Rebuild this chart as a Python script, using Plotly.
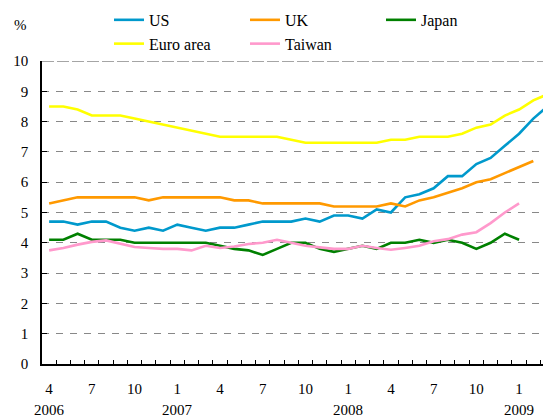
import plotly.graph_objects as go

# Monthly, April 2006 .. March 2009
months = ["Apr 2006","May 2006","Jun 2006","Jul 2006","Aug 2006","Sep 2006","Oct 2006","Nov 2006","Dec 2006",
          "Jan 2007","Feb 2007","Mar 2007","Apr 2007","May 2007","Jun 2007","Jul 2007","Aug 2007","Sep 2007",
          "Oct 2007","Nov 2007","Dec 2007","Jan 2008","Feb 2008","Mar 2008","Apr 2008","May 2008","Jun 2008",
          "Jul 2008","Aug 2008","Sep 2008","Oct 2008","Nov 2008","Dec 2008","Jan 2009","Feb 2009","Mar 2009"]

us = [4.7, 4.7, 4.6, 4.7, 4.7, 4.5, 4.4, 4.5, 4.4, 4.6, 4.5, 4.4, 4.5, 4.5, 4.6, 4.7, 4.7, 4.7,
      4.8, 4.7, 4.9, 4.9, 4.8, 5.1, 5.0, 5.5, 5.6, 5.8, 6.2, 6.2, 6.6, 6.8, 7.2, 7.6, 8.1, 8.5]
uk = [5.3, 5.4, 5.5, 5.5, 5.5, 5.5, 5.5, 5.4, 5.5, 5.5, 5.5, 5.5, 5.5, 5.4, 5.4, 5.3, 5.3, 5.3,
      5.3, 5.3, 5.2, 5.2, 5.2, 5.2, 5.3, 5.2, 5.4, 5.5, 5.65, 5.8, 6.0, 6.1, 6.3, 6.5, 6.7, None]
japan = [4.1, 4.1, 4.3, 4.1, 4.1, 4.1, 4.0, 4.0, 4.0, 4.0, 4.0, 4.0, 3.9, 3.8, 3.75, 3.6, 3.8, 4.0,
         4.0, 3.8, 3.7, 3.8, 3.9, 3.8, 4.0, 4.0, 4.1, 4.0, 4.1, 4.0, 3.8, 4.0, 4.3, 4.1, None, None]
euro = [8.5, 8.5, 8.4, 8.2, 8.2, 8.2, 8.1, 8.0, 7.9, 7.8, 7.7, 7.6, 7.5, 7.5, 7.5, 7.5, 7.5, 7.4,
        7.3, 7.3, 7.3, 7.3, 7.3, 7.3, 7.4, 7.4, 7.5, 7.5, 7.5, 7.6, 7.8, 7.9, 8.2, 8.4, 8.7, 8.9]
taiwan = [3.75, 3.83, 3.94, 4.03, 4.08, 3.96, 3.86, 3.83, 3.8, 3.8, 3.75, 3.9, 3.83, 3.88, 3.96, 4.0, 4.1, 4.0,
          3.9, 3.85, 3.8, 3.8, 3.9, 3.83, 3.77, 3.83, 3.9, 4.05, 4.12, 4.27, 4.35, 4.65, 5.0, 5.3, None, None]

series = [("US", us, "#0099CC"), ("UK", uk, "#FF9900"), ("Japan", japan, "#008000"),
          ("Euro area", euro, "#FFFF00"), ("Taiwan", taiwan, "#FF99CC")]

tick_months = ["4", "7", "10", "1", "4", "7", "10", "1", "4", "7", "10", "1"]
year_labels = ["2006", "2007", "2008", "2009"]
year_idx = [0, 9, 21, 33]

x = list(range(len(months)))
tickvals = list(range(0, 34, 3))

FONT = "Times New Roman, Liberation Serif, DejaVu Serif, serif"

fig = go.Figure()
for name, vals, col in series:
    fig.add_trace(go.Scatter(x=x, y=vals, name=name, mode="lines",
                             line=dict(color=col, width=2.6), connectgaps=False))

fig.update_layout(
    width=543, height=418,
    margin=dict(l=42, r=0, t=61, b=54, autoexpand=False),
    paper_bgcolor="white", plot_bgcolor="white",
    font=dict(family=FONT, size=15, color="black"),
    showlegend=True,
    legend=dict(orientation="h", xref="container", yref="container",
                x=0.2007, y=0.993, xanchor="left", yanchor="top",
                font=dict(family=FONT, size=16, color="black"),
                entrywidth=91, tracegroupgap=0, itemwidth=30,
                bgcolor="rgba(0,0,0,0)"),
    xaxis=dict(range=[-0.5, 34.68], tickmode="array", tickvals=tickvals, ticktext=tick_months,
               showgrid=False, zeroline=False, showline=False, ticks="",
               ticklabelstandoff=14, tickfont=dict(family=FONT, size=15, color="black")),
    xaxis2=dict(range=[-0.5, 34.68], overlaying="x", tickmode="linear", tick0=-0.5, dtick=1,
                showticklabels=False, ticks="inside", ticklen=4, tickcolor="black",
                showgrid=False, zeroline=False, showline=True, linecolor="black", linewidth=1.5,
                anchor="y", side="bottom"),
    yaxis=dict(range=[0, 10], tickmode="linear", tick0=0, dtick=1,
               showgrid=True, gridcolor="#888888", griddash="7px,7px", gridwidth=1,
               zeroline=False, showline=True, linecolor="black", linewidth=1.5,
               ticks="inside", ticklen=5, tickcolor="black",
               ticklabelstandoff=9, tickfont=dict(family=FONT, size=15, color="black")),
)

# invisible trace to activate the secondary x axis (tick marks between months)
fig.add_trace(go.Scatter(x=[0], y=[None], xaxis="x2", showlegend=False, hoverinfo="skip"))

# top border at 10
fig.add_shape(type="line", xref="paper", yref="y", x0=0, x1=1, y0=10, y1=10,
              line=dict(color="#888888", width=1.5, dash="12px,3px"))

for yl, yi in zip(year_labels, year_idx):
    fig.add_annotation(x=yi, y=0, xref="x", yref="paper", text=yl, showarrow=False,
                       yanchor="middle", yshift=-46,
                       font=dict(family=FONT, size=15, color="black"))

fig.add_annotation(xref="paper", yref="paper", x=(20 - 42) / 501, y=(364 - 25) / 303,
                   text="%", showarrow=False, xanchor="center", yanchor="middle",
                   font=dict(family=FONT, size=15, color="black"))

fig.write_html("out.html", config={"displayModeBar": False},
               post_script="document.body.style.margin='0';document.body.style.padding='0';")
